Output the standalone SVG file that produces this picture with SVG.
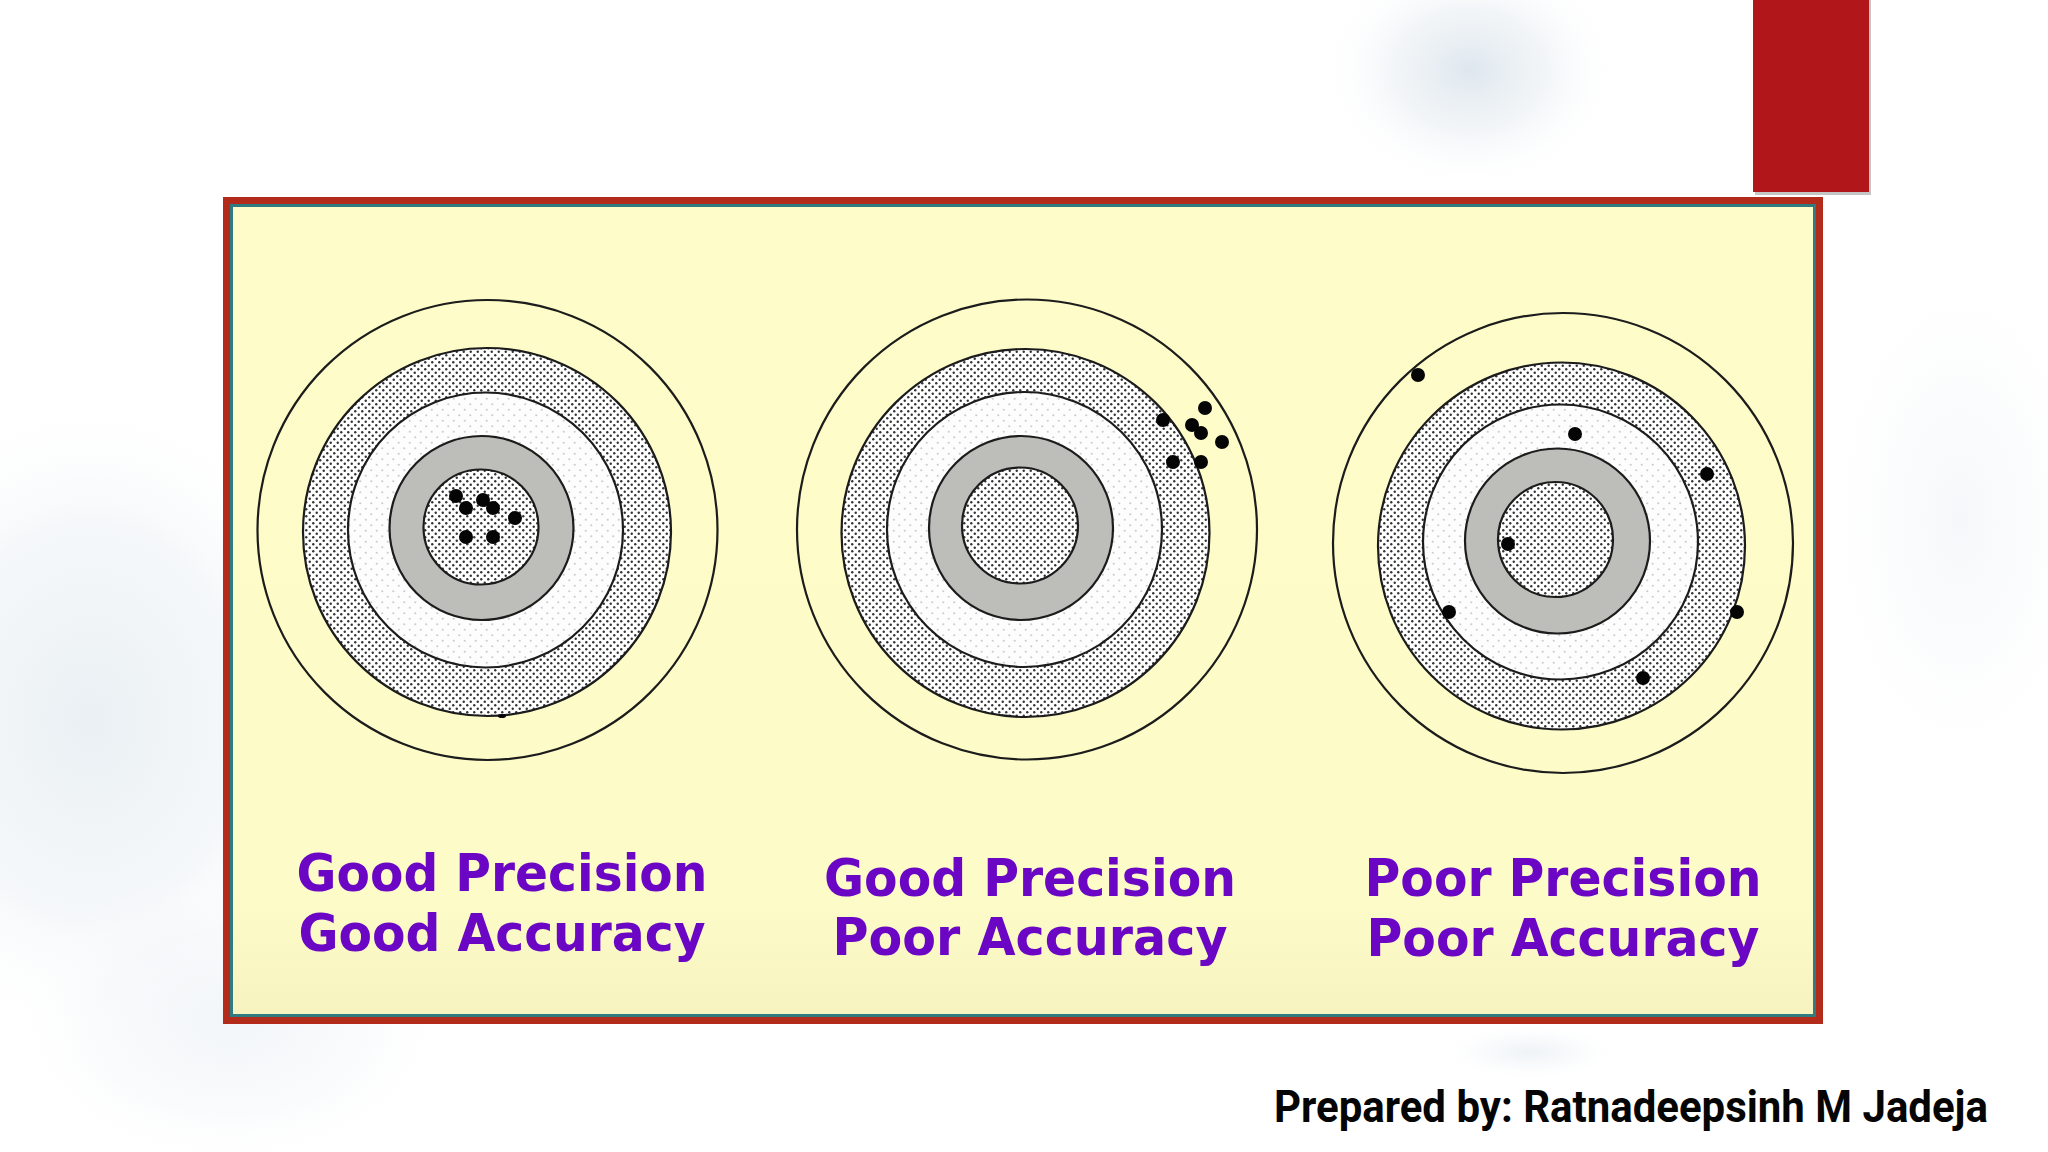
<svg xmlns="http://www.w3.org/2000/svg" width="2048" height="1152" viewBox="0 0 2048 1152">
<defs>
<style>
.ring{stroke:#1c1c1c;stroke-width:2.2}
.outer{fill:none}
.dense{fill:url(#dense)}
.light{fill:url(#light)}
.gray{fill:#bdbdb9}
.hit{fill:#050505}
.lbl{font-family:"DejaVu Sans","Liberation Sans",sans-serif;font-weight:bold;font-size:52px;fill:#6a06c4;text-anchor:middle}
.foot{font-family:Roboto,"Liberation Sans",sans-serif;font-weight:bold;font-size:45px;fill:#050505}
</style>
<pattern id="dense" width="7" height="7" patternUnits="userSpaceOnUse">
<rect width="7" height="7" fill="#ffffff"/>
<circle cx="1.75" cy="1.75" r="1.2" fill="#333333"/>
<circle cx="5.25" cy="5.25" r="1.2" fill="#333333"/>
</pattern>
<pattern id="light" width="11" height="11" patternUnits="userSpaceOnUse">
<rect width="11" height="11" fill="#fdfdfd"/>
<circle cx="2.75" cy="2.75" r="1.1" fill="#cdcdcd"/>
<circle cx="8.25" cy="8.25" r="1.1" fill="#cdcdcd"/>
</pattern>
<radialGradient id="blob">
<stop offset="0" stop-color="#d6e1ea" stop-opacity="0.8"/>
<stop offset="0.5" stop-color="#e2e9ef" stop-opacity="0.45"/>
<stop offset="1" stop-color="#ffffff" stop-opacity="0"/>
</radialGradient>
<radialGradient id="blobPale">
<stop offset="0" stop-color="#e6edf2" stop-opacity="0.85"/>
<stop offset="0.6" stop-color="#edf2f5" stop-opacity="0.55"/>
<stop offset="1" stop-color="#ffffff" stop-opacity="0"/>
</radialGradient>
<linearGradient id="panelFill" x1="0" y1="0" x2="0" y2="1">
<stop offset="0" stop-color="#fefdca"/>
<stop offset="0.85" stop-color="#fdfcc8"/>
<stop offset="1" stop-color="#f7f3c0"/>
</linearGradient>
</defs>

<rect width="2048" height="1152" fill="#ffffff"/>
<g id="background">
<ellipse cx="1470" cy="70" rx="150" ry="120" fill="url(#blob)"/>
<ellipse cx="90" cy="720" rx="260" ry="330" fill="url(#blobPale)"/>
<ellipse cx="230" cy="1020" rx="220" ry="150" fill="url(#blobPale)" opacity="0.6"/>
<ellipse cx="1530" cy="1052" rx="90" ry="28" fill="url(#blob)" opacity="0.5"/>
<ellipse cx="1960" cy="520" rx="140" ry="260" fill="url(#blob)" opacity="0.3"/>
</g>

<g id="red-tab">
<rect x="1755" y="0" width="116" height="195" fill="#9e9e9e" opacity="0.6"/>
<rect x="1753" y="0" width="116" height="192" fill="#b1171a"/>
</g>

<g id="panel">
<rect x="223" y="197" width="1600" height="827" fill="#b32c1b"/>
<rect x="230" y="204" width="1586" height="813" fill="#2f7b80"/>
<rect x="233" y="207" width="1580" height="807" fill="url(#panelFill)"/>
</g>

<g id="target-good-good">
<circle class="ring outer" cx="487.5" cy="530" r="230"/>
<circle class="ring dense" cx="487" cy="532" r="184"/>
<circle class="ring light" cx="485.5" cy="530" r="137.5"/>
<circle class="ring gray" cx="481.5" cy="528" r="92"/>
<circle class="ring dense" cx="481" cy="527" r="57.5"/>
<circle class="hit" cx="456" cy="496" r="7"/>
<circle class="hit" cx="466" cy="508" r="7"/>
<circle class="hit" cx="483" cy="500" r="7"/>
<circle class="hit" cx="493" cy="508" r="7"/>
<circle class="hit" cx="515" cy="518" r="7"/>
<circle class="hit" cx="466" cy="537" r="7"/>
<circle class="hit" cx="493" cy="537" r="7"/>
<ellipse class="hit" cx="502" cy="716" rx="4" ry="2"/>
</g>

<g id="target-good-poor">
<circle class="ring outer" cx="1027" cy="529.5" r="230"/>
<circle class="ring dense" cx="1025.5" cy="533" r="184"/>
<circle class="ring light" cx="1024.5" cy="529.5" r="137.5"/>
<circle class="ring gray" cx="1021" cy="528" r="92"/>
<circle class="ring dense" cx="1020" cy="525.5" r="58"/>
<circle class="hit" cx="1205" cy="408" r="7"/>
<circle class="hit" cx="1163" cy="420" r="7"/>
<circle class="hit" cx="1192" cy="425" r="7"/>
<circle class="hit" cx="1201" cy="433" r="7"/>
<circle class="hit" cx="1222" cy="442" r="7"/>
<circle class="hit" cx="1173" cy="462" r="7"/>
<circle class="hit" cx="1201" cy="462" r="7"/>
</g>

<g id="target-poor-poor">
<circle class="ring outer" cx="1563" cy="543" r="230"/>
<circle class="ring dense" cx="1561.5" cy="546" r="183.5"/>
<circle class="ring light" cx="1560.5" cy="542" r="137.5"/>
<circle class="ring gray" cx="1557.5" cy="541" r="92.5"/>
<circle class="ring dense" cx="1555.5" cy="539.5" r="57.5"/>
<circle class="hit" cx="1418" cy="375" r="7"/>
<circle class="hit" cx="1575" cy="434" r="7"/>
<circle class="hit" cx="1707" cy="474" r="7"/>
<circle class="hit" cx="1508" cy="544" r="7"/>
<circle class="hit" cx="1449" cy="612" r="7"/>
<circle class="hit" cx="1737" cy="612" r="7"/>
<circle class="hit" cx="1643" cy="678" r="7"/>
</g>

<g id="labels">
<text class="lbl" x="502" y="891" textLength="411" lengthAdjust="spacingAndGlyphs">Good Precision</text>
<text class="lbl" x="502" y="951" textLength="407" lengthAdjust="spacingAndGlyphs">Good Accuracy</text>
<text class="lbl" x="1030" y="896" textLength="412" lengthAdjust="spacingAndGlyphs">Good Precision</text>
<text class="lbl" x="1030" y="955" textLength="395" lengthAdjust="spacingAndGlyphs">Poor Accuracy</text>
<text class="lbl" x="1563" y="896" textLength="397" lengthAdjust="spacingAndGlyphs">Poor Precision</text>
<text class="lbl" x="1563" y="956" textLength="393" lengthAdjust="spacingAndGlyphs">Poor Accuracy</text>
</g>

<g id="footer">
<text class="foot" x="1274" y="1122" textLength="714" lengthAdjust="spacingAndGlyphs">Prepared by: Ratnadeepsinh M Jadeja</text>
</g>
</svg>
